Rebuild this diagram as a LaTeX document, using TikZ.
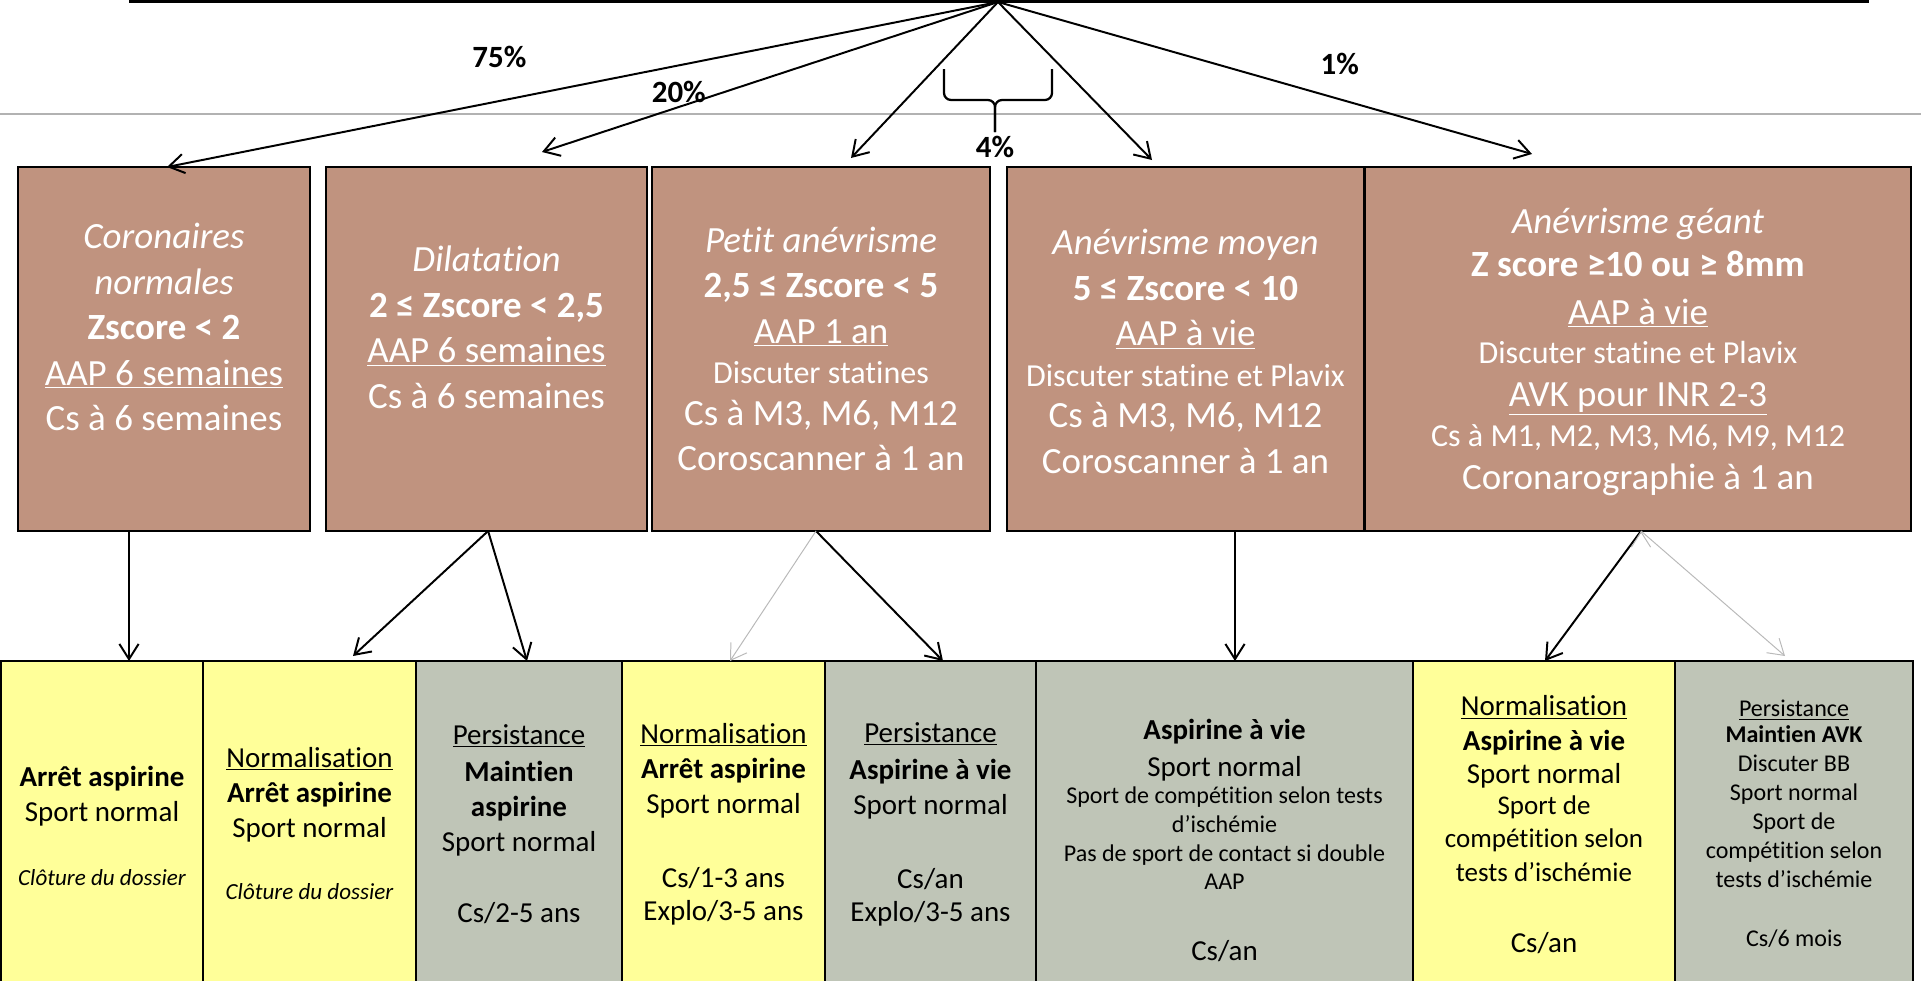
\documentclass[tikz,border=0pt]{standalone}
\usepackage{fontspec}
\setmainfont{Carlito}[Ligatures=NoCommon]
\usetikzlibrary{positioning,arrows.meta}

\definecolor{brun}{RGB}{192,147,127}
\definecolor{jaune}{RGB}{255,255,153}
\definecolor{grisvert}{RGB}{191,197,183}

\newcommand{\tailleA}{\fontsize{26.3pt}{32.4pt}\selectfont}
\newcommand{\tailleB}{\fontsize{22.8pt}{32.4pt}\selectfont}
\newcommand{\tailleC}{\fontsize{20.6pt}{24.9pt}\selectfont}
\newcommand{\tailleD}{\fontsize{19.2pt}{23.5pt}\selectfont}
\newcommand{\tailleE}{\fontsize{17.1pt}{20.6pt}\selectfont}
\newcommand{\tailleF}{\fontsize{16.4pt}{20pt}\selectfont}

\begin{document}
\begin{tikzpicture}[>={Straight Barb[length=0.38cm,width=0.48cm]},
    brownbox/.style={draw,fill=brun,line width=1.9pt,minimum height=9.1cm,inner sep=0pt,outer sep=0pt},
    yellowbox/.style={draw,fill=jaune,line width=2pt,minimum height=8.5cm,inner sep=0pt,outer sep=0pt},
    greybox/.style={yellowbox,fill=grisvert},
    brtxt/.style={text=white,align=center,inner sep=0pt,font=\tailleA},
    bttxt/.style={align=center,inner sep=0pt,font=\tailleC},
    pct/.style={font=\fontsize{22pt}{26pt}\selectfont\bfseries},
    fleche/.style={->,line width=1.4pt},
    pale/.style={->,draw=gray!55,line width=0.7pt}]
      \useasboundingbox (0,0) rectangle (48.025,-24.5);

      \draw[gray!60,line width=1pt] (0,-2.85) -- (48.025,-2.85);
      \draw[line width=2.4pt] (3.225,-0.03) -- (46.725,-0.03);
      \coordinate (Apex) at (24.95,-0.05);

      % categories
      \node[brownbox,minimum width=7.3cm] (CorNormal) at (4.1,-8.725) {};
      \node[brownbox,right=0.4cm of CorNormal,minimum width=8.025cm] (Dilatation) {};
      \node[brownbox,right=0.125cm of Dilatation,minimum width=8.45cm] (PetitAnev) {};
      \node[brownbox,right=0.425cm of PetitAnev,minimum width=8.925cm] (AnevMoyen) {};
      \node[brownbox,right=0.025cm of AnevMoyen,minimum width=13.65cm] (AnevGeant) {};

      \node[brtxt] (CorNormalTxt) at ([yshift=0.55cm]CorNormal.center)
        {\textit{Coronaires}\\\textit{normales}\\\textbf{Zscore < 2}\\\underline{AAP 6 semaines}\\Cs à 6 semaines};
      \node[brtxt] (DilatationTxt) at ([yshift=0.5375cm]Dilatation.center)
        {\textit{Dilatation}\\\textbf{2 ≤ Zscore < 2,5}\\\underline{AAP 6 semaines}\\Cs à 6 semaines};
      \node[brtxt] (PetitAnevTxt) at (PetitAnev.center)
        {\textit{Petit anévrisme}\\\textbf{2,5 ≤ Zscore < 5}\\\underline{AAP 1 an}\\[-0.125cm]{\tailleB Discuter statines}\\[-0.1cm]Cs à M3, M6, M12\\Coroscanner à 1 an};
      \node[brtxt] (AnevMoyenTxt) at ([yshift=-0.0625cm]AnevMoyen.center)
        {\textit{Anévrisme moyen}\\\textbf{5 ≤ Zscore < 10}\\\underline{AAP à vie}\\[-0.125cm]{\tailleB Discuter statine et Plavix}\\[-0.1cm]Cs à M3, M6, M12\\Coroscanner à 1 an};
      \node[brtxt] (AnevGeantTxt) at ([yshift=-0.075cm]AnevGeant.center)
        {\textit{Anévrisme géant}\\[-0.0625cm]\textbf{Z score ≥10 ou ≥ 8mm}\\[0.0375cm]\underline{AAP à vie}\\[-0.15cm]{\tailleB Discuter statine et Plavix}\\[-0.075cm]\underline{AVK pour INR 2-3}\\[-0.125cm]{\tailleB Cs à M1, M2, M3, M6, M9, M12}\\[-0.075cm]Coronarographie à 1 an};

      % suivi
      \node[yellowbox,minimum width=5.05cm] (ArretA) at (2.55,-20.775) {};
      \node[yellowbox,right=0cm of ArretA,minimum width=5.325cm] (NormB) {};
      \node[greybox,right=0cm of NormB,minimum width=5.15cm] (PersB) {};
      \node[yellowbox,right=0cm of PersB,minimum width=5.075cm] (NormC) {};
      \node[greybox,right=0cm of NormC,minimum width=5.275cm] (PersC) {};
      \node[greybox,right=0cm of PersC,minimum width=9.425cm] (VieD) {};
      \node[yellowbox,right=0cm of VieD,minimum width=6.55cm] (NormE) {};
      \node[greybox,right=0cm of NormE,minimum width=5.95cm] (PersE) {};

      \node[bttxt] (ArretATxt) at ([yshift=0.125cm]ArretA.center)
        {\textbf{Arrêt aspirine}\\Sport normal\\[0.725cm]{\tailleF\itshape Clôture du dossier}};
      \node[bttxt] (NormBTxt) at ([yshift=0.1875cm]NormB.center)
        {\underline{Normalisation}\\\textbf{Arrêt aspirine}\\Sport normal\\[0.675cm]{\tailleF\itshape Clôture du dossier}};
      \node[bttxt] (PersBTxt) at ([yshift=0.175cm]PersB.center)
        {\underline{Persistance}\\[0.05cm]\textbf{Maintien}\\\textbf{aspirine}\\Sport normal\\[0.9cm]Cs/2-5 ans};
      \node[bttxt] (NormCTxt) at ([yshift=0.175cm]NormC.center)
        {\underline{Normalisation}\\\textbf{Arrêt aspirine}\\Sport normal\\[0.975cm]Cs/1-3 ans\\[-0.05cm]Explo/3-5 ans};
      \node[bttxt] (PersCTxt) at ([yshift=0.175cm]PersC.center)
        {\underline{Persistance}\\[0.05cm]\textbf{Aspirine à vie}\\Sport normal\\[0.975cm]Cs/an\\[-0.05cm]Explo/3-5 ans};
      \node[bttxt,font=\tailleE] (VieDTxt) at ([yshift=-0.2375cm]VieD.center)
        {{\tailleC\bfseries Aspirine à vie}\\[0.2cm]{\tailleC Sport normal}\\[-0.05cm]Sport de compétition selon tests\\d’ischémie\\Pas de sport de contact si double\\AAP\\[1.05cm]{\tailleC Cs/an}};
      \node[bttxt,font=\fontsize{20.6pt}{23.5pt}\selectfont] (NormETxt) at ([yshift=0.1625cm]NormE.center)
        {\underline{Normalisation}\\[0.05cm]\textbf{Aspirine à vie}\\Sport normal\\[-0.05cm]{\tailleD Sport de}\\{\tailleD compétition selon}\\{\tailleD tests d’ischémie}\\[0.95cm]Cs/an};
      \node[bttxt,font=\tailleE] (PersETxt) at ([yshift=0.175cm]PersE.center)
        {\underline{Persistance}\\[-0.075cm]\textbf{Maintien AVK}\\Discuter BB\\Sport normal\\Sport de\\compétition selon\\tests d’ischémie\\[0.75cm]Cs/6 mois};

      % repartition
      \path[fleche] (Apex) edge node[pct,pos=0.6,yshift=1.1cm] {75\%} ([xshift=3.725cm]CorNormal.north west)
                    (Apex) edge node[pct,pos=0.7,yshift=0.37cm] {20\%} ([xshift=5.8cm,yshift=0.375cm]CorNormal.north east)
                    (Apex) edge ([xshift=4.975cm,yshift=0.225cm]PetitAnev.north west)
                    (Apex) edge ([xshift=3.625cm,yshift=0.175cm]AnevMoyen.north west)
                    (Apex) edge node[pct,pos=0.64,yshift=0.875cm] {1\%} ([xshift=4.175cm,yshift=0.325cm]AnevGeant.north west);

      \draw[line width=1.6pt,rounded corners=5pt] (23.6,-1.725) |- (24.875,-2.5) -- (24.875,-3.3);
      \draw[line width=1.6pt,rounded corners=5pt] (26.3,-1.725) |- (24.875,-2.5) -- (24.875,-3.3);
      \node[pct] (P4) at (24.875,-3.675) {4\%};

      \path[fleche] ([xshift=-0.875cm]CorNormal.south) edge ([xshift=0.675cm]ArretA.north)
                    ([xshift=0.04cm]Dilatation.south)  edge ([xshift=1.0875cm,yshift=0.125cm]NormB.north)
                    ([xshift=0.04cm]Dilatation.south)  edge ([xshift=0.2cm]PersB.north)
                    ([xshift=-0.125cm]PetitAnev.south) edge ([xshift=0.3125cm]PersC.north)
                    ([xshift=1.2375cm]AnevMoyen.south) edge ([xshift=0.2625cm]VieD.north)
                    ([xshift=0.075cm]AnevGeant.south)  edge ([xshift=0.025cm]NormE.north);
      \path[pale]   ([xshift=-0.125cm]PetitAnev.south) edge ([xshift=0.1625cm]NormC.north)
                    ([xshift=0.075cm]AnevGeant.south)  edge ([xshift=-0.225cm,yshift=0.125cm]PersE.north);

\end{tikzpicture}
\end{document}
